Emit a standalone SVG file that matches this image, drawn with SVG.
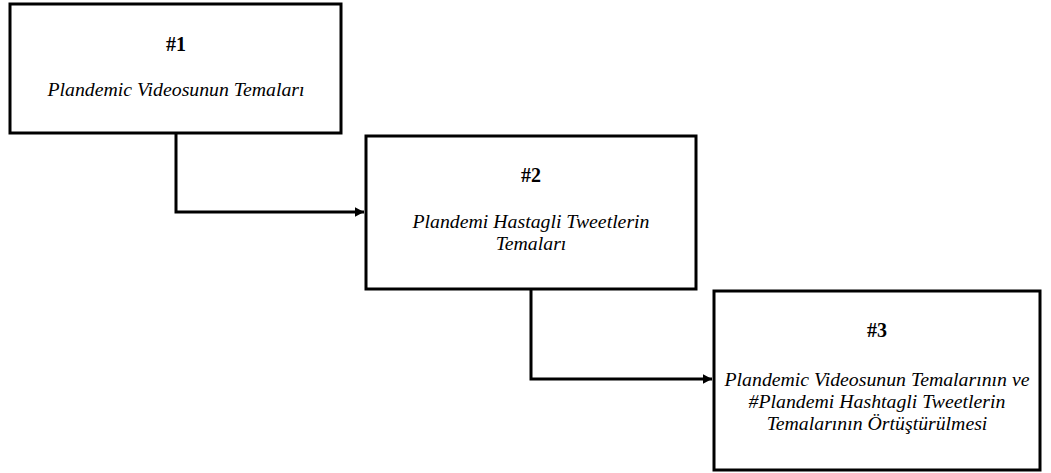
<svg xmlns="http://www.w3.org/2000/svg" width="1051" height="473" viewBox="0 0 1051 473">
<style>
.box{fill:#fff;stroke:#000;stroke-width:3}
.num{font-family:"Liberation Serif","Times New Roman",serif;font-weight:bold;font-size:20px;text-anchor:middle;fill:#000}
.lbl{font-family:"Liberation Serif","Times New Roman",serif;font-style:italic;font-size:19.8px;text-anchor:middle;fill:#000}
.conn{fill:none;stroke:#000;stroke-width:3}
</style>
<defs>
<marker id="arr" markerWidth="4" markerHeight="4" refX="3" refY="2" orient="auto" markerUnits="strokeWidth">
<path d="M0,0.4 L3,2 L0,3.6 Z" fill="#000"/>
</marker>
</defs>
<rect width="1051" height="473" fill="#fff"/>
<g id="connectors">
<path class="conn" d="M176,133 V212 H364" marker-end="url(#arr)"/>
<path class="conn" d="M531,289 V379 H712" marker-end="url(#arr)"/>
</g>
<g id="node1">
<rect class="box" x="10" y="4" width="331" height="129"/>
<text class="num" x="176" y="51">#1</text>
<text class="lbl" x="176" y="96">Plandemic Videosunun Temaları</text>
</g>
<g id="node2">
<rect class="box" x="366" y="136" width="330" height="153"/>
<text class="num" x="531" y="182">#2</text>
<text class="lbl" x="531" y="228">Plandemi Hastagli Tweetlerin</text>
<text class="lbl" x="531" y="250">Temaları</text>
</g>
<g id="node3">
<rect class="box" x="714" y="291" width="326" height="179"/>
<text class="num" x="877" y="337">#3</text>
<text class="lbl" x="877" y="386">Plandemic Videosunun Temalarının ve</text>
<text class="lbl" x="877" y="408">#Plandemi Hashtagli Tweetlerin</text>
<text class="lbl" x="877" y="430">Temalarının Örtüştürülmesi</text>
</g>
</svg>
